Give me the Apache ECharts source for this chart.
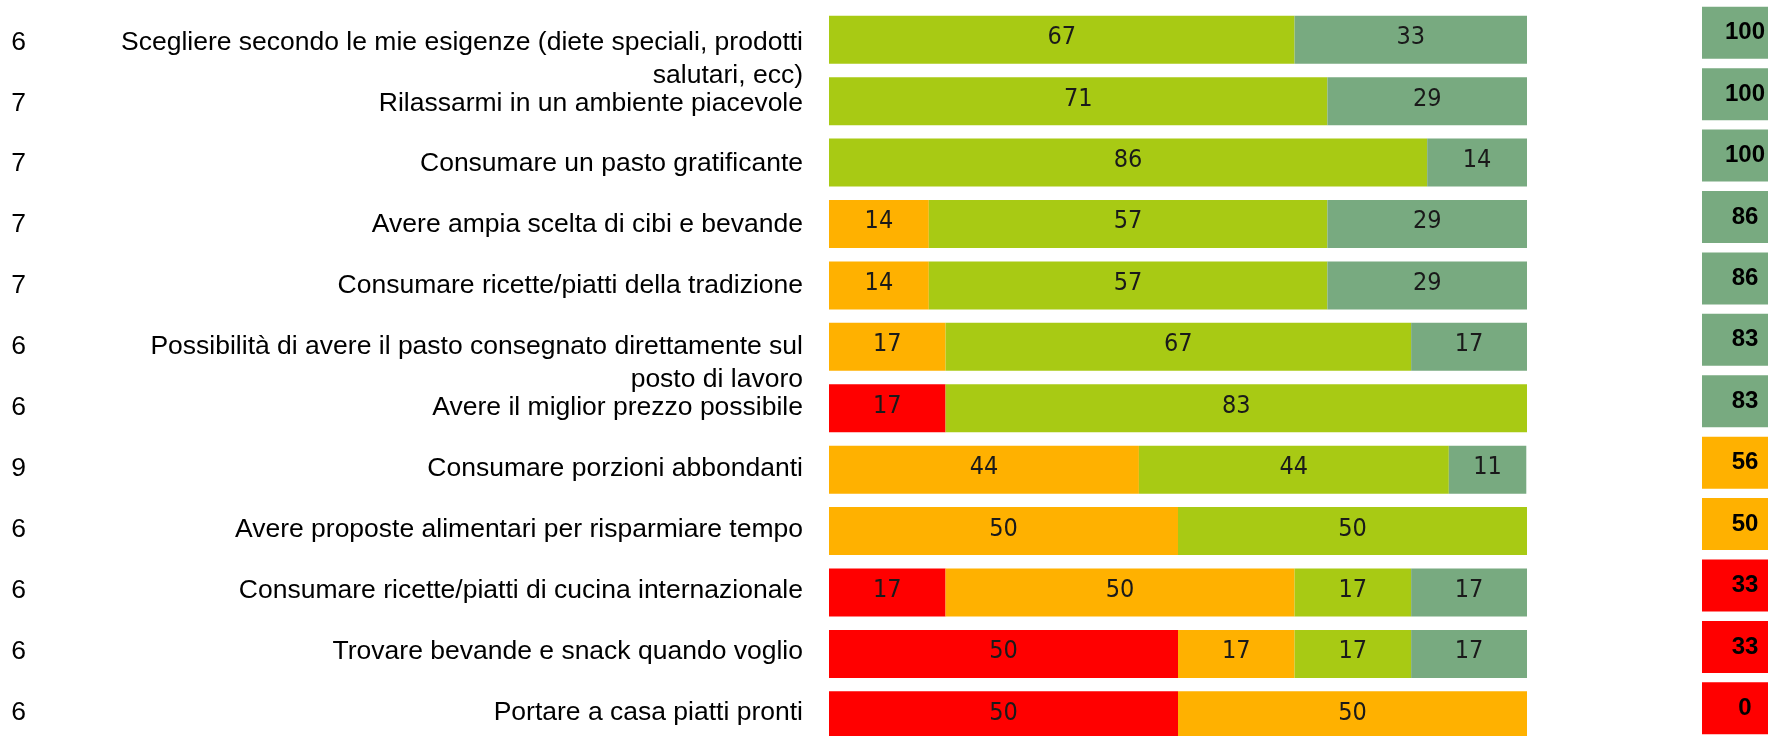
<!DOCTYPE html>
<html>
<head>
<meta charset="utf-8">
<script src="https://cdn.jsdelivr.net/npm/echarts@6/dist/echarts.min.js"></script>
<style>
html,body{margin:0;padding:0;background:#ffffff;}
#chart{width:1768px;height:736px;}
</style>
</head>
<body>
<div id="chart"></div>
<script>
// ---- data ----
const categories = [
  'Scegliere secondo le mie esigenze (diete speciali, prodotti\nsalutari, ecc)',
  'Rilassarmi in un ambiente piacevole',
  'Consumare un pasto gratificante',
  'Avere ampia scelta di cibi e bevande',
  'Consumare ricette/piatti della tradizione',
  'Possibilità di avere il pasto consegnato direttamente sul\nposto di lavoro',
  'Avere il miglior prezzo possibile',
  'Consumare porzioni abbondanti',
  'Avere proposte alimentari per risparmiare tempo',
  'Consumare ricette/piatti di cucina internazionale',
  'Trovare bevande e snack quando voglio',
  'Portare a casa piatti pronti'
];
const counts = ['6', '7', '7', '7', '7', '6', '6', '9', '6', '6', '6', '6'];
const redValues = [0, 0, 0, 0, 0, 0, 16.7, 0, 0, 16.7, 50, 50];
const orangeValues = [0, 0, 0, 14.3, 14.3, 16.7, 0, 44.4, 50, 50, 16.7, 50];
const lightGreenValues = [66.7, 71.4, 85.7, 57.1, 57.1, 66.7, 83.3, 44.4, 50, 16.7, 16.7, 0];
const darkGreenValues = [33.3, 28.6, 14.3, 28.6, 28.6, 16.7, 0, 11.1, 0, 16.7, 16.7, 0];
const totals = [100, 100, 100, 86, 86, 83, 83, 56, 50, 33, 33, 0];

// ---- styles ----
const RED = '#FF0000', ORANGE = '#FFB100', LGREEN = '#A8CA14', DGREEN = '#78AA80';
function boxColor(t) { return t >= 60 ? DGREEN : (t >= 50 ? ORANGE : RED); }

const barLabel = {
  show: true,
  position: 'inside',
  offset: [0, -2],
  color: '#1a1a1a',
  fontFamily: '"DejaVu Sans Condensed", "DejaVu Sans", sans-serif',
  fontSize: 25,
  formatter: p => (p.value > 0 ? String(Math.round(p.value)) : '')
};

function barSeries(name, data, color) {
  return {
    name: name,
    type: 'bar',
    stack: 'total',
    xAxisIndex: 0,
    yAxisIndex: 0,
    barWidth: 48,
    data: data,
    itemStyle: { color: color },
    label: barLabel,
    silent: true
  };
}

const labelFont = '"Liberation Sans", Arial, sans-serif';
const hiddenAxis = { axisLine: { show: false }, axisTick: { show: false }, splitLine: { show: false } };

const chart = echarts.init(document.getElementById('chart'), null, { renderer: 'canvas' });
chart.setOption({
  animation: false,
  backgroundColor: '#ffffff',
  grid: [
    { left: 829, top: 9, width: 698, height: 737, containLabel: false, outerBoundsMode: 'none' },
    { left: 1702, top: 9, width: 86, height: 737, containLabel: false, outerBoundsMode: 'none' },
    { left: 829, top: 11.8, width: 698, height: 731.4, containLabel: false, outerBoundsMode: 'none' }
  ],
  xAxis: [
    { type: 'value', gridIndex: 0, min: 0, max: 100, show: false },
    { type: 'value', gridIndex: 1, min: 0, max: 1, show: false },
    { type: 'value', gridIndex: 2, min: 0, max: 1, show: false }
  ],
  yAxis: [
    { type: 'category', gridIndex: 0, inverse: true, data: categories, show: false },
    { type: 'category', gridIndex: 1, inverse: true, data: categories, show: false },
    Object.assign({
      type: 'category', gridIndex: 2, inverse: true, data: categories,
      axisLabel: {
        interval: 0, showMinLabel: true, showMaxLabel: true, hideOverlap: false,
        margin: 26, align: 'right', lineHeight: 33, padding: [6, 0, 0, 0],
        fontFamily: labelFont, fontSize: 26.5, color: '#000',
        // wrapped labels: first line sits on the bar centre, the rest hangs below
        formatter: v => (v.indexOf('\n') >= 0 ? '\n' + v : v)
      }
    }, hiddenAxis),
    Object.assign({
      type: 'category', gridIndex: 2, inverse: true, position: 'left', offset: 795,
      data: counts,
      axisLabel: {
        interval: 0, showMinLabel: true, showMaxLabel: true, hideOverlap: false,
        margin: 8, lineHeight: 33, padding: [6, 0, 0, 0],
        fontFamily: labelFont, fontSize: 26.5, color: '#000'
      }
    }, hiddenAxis)
  ],
  series: [
    barSeries('Rosso', redValues, RED),
    barSeries('Arancione', orangeValues, ORANGE),
    barSeries('Verde chiaro', lightGreenValues, LGREEN),
    barSeries('Verde scuro', darkGreenValues, DGREEN),
    {
      name: 'Totale',
      type: 'scatter',
      xAxisIndex: 1,
      yAxisIndex: 1,
      symbol: 'rect',
      symbolSize: [86, 52],
      symbolOffset: [0, -7],
      clip: false,
      silent: true,
      data: totals.map((t, i) => ({ value: [0.5, i], itemStyle: { color: boxColor(t), opacity: 1 } })),
      label: {
        show: true,
        position: 'inside',
        color: '#000',
        fontFamily: labelFont,
        fontWeight: 'bold',
        fontSize: 24,
        formatter: p => String(totals[p.dataIndex])
      }
    }
  ]
});
</script>
</body>
</html>
